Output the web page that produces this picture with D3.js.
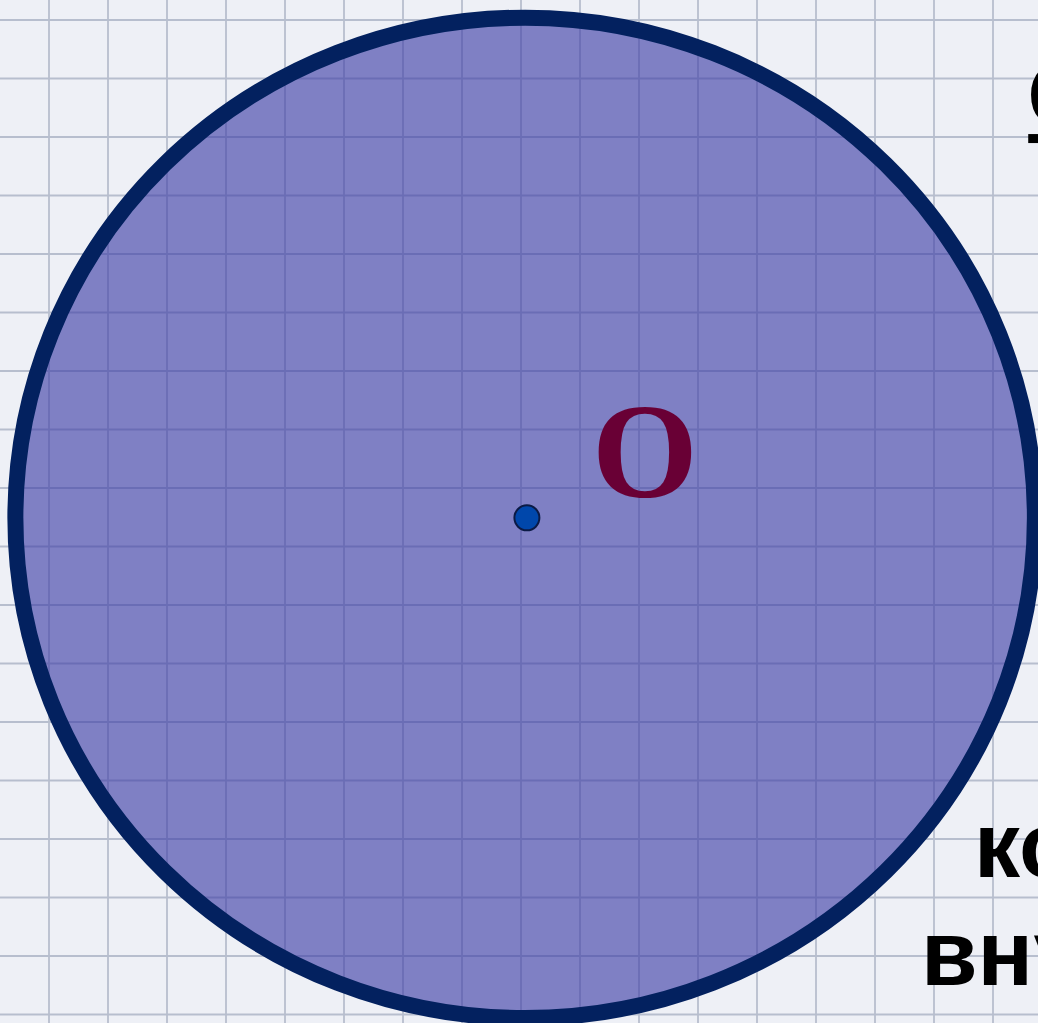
<!DOCTYPE html>
<meta charset="utf-8">
<script src="https://d3js.org/d3.v7.min.js"></script>
<style>
  html, body { margin: 0; padding: 0; background: #eef0f6; }
  svg { display: block; }
  .grid line { stroke: #b7bece; stroke-width: 1.8; }
  .label-o { font-family: 'Liberation Serif', serif; font-weight: bold; fill: #690035; }
  .body-text { font-family: 'Liberation Sans', Arial, sans-serif; font-weight: bold; fill: #000; }
</style>
<div id="my_dataviz"></div>
<script>

// grid paper, in cells
var gridCols = d3.range(-1, 18);
var gridRows = d3.range(-1, 18);

// circle (centre, radii) in grid cells
var circleCentre = [8.07, 8.51];
var circleRadii = [8.64, 8.55];
var pointO = [8.1, 8.51];
var pointLabel = "О";

// text on the slide: [text, col, row] of the baseline start
var textLines = [
  ["Определение", 16.58, 1.83],
  ["которая", 15.68, 14.65],
  ["внутри", 14.78, 16.5],
  ["окружности", 14.65, 18.25]
];

var width = 1038, height = 1023;

var svg = d3.select("#my_dataviz").append("svg")
    .attr("width", width)
    .attr("height", height);

// one cell ~ 59 px across, 58.5 px down
var x = d3.scaleLinear().domain([0, 1]).range([49, 108]);
var y = d3.scaleLinear().domain([0, 1]).range([20, 78.5]);

svg.append("rect")
    .attr("width", width).attr("height", height)
    .attr("fill", "#eef0f6");

var grid = svg.append("g").attr("class", "grid");
grid.selectAll(".v").data(gridCols).enter().append("line")
    .attr("x1", function(d) { return x(d); })
    .attr("x2", function(d) { return x(d); })
    .attr("y1", 0).attr("y2", height);
grid.selectAll(".h").data(gridRows).enter().append("line")
    .attr("y1", function(d) { return y(d); })
    .attr("y2", function(d) { return y(d); })
    .attr("x1", 0).attr("x2", width);

// the disc
svg.append("ellipse")
    .attr("cx", x(circleCentre[0]))
    .attr("cy", y(circleCentre[1]))
    .attr("rx", x(circleRadii[0]) - x(0))
    .attr("ry", y(circleRadii[1]) - y(0))
    .attr("fill", "rgb(62,62,167)")
    .attr("fill-opacity", 0.63)
    .attr("stroke", "#03215f")
    .attr("stroke-width", 16);

// centre point
svg.append("circle")
    .attr("cx", x(pointO[0]))
    .attr("cy", y(pointO[1]))
    .attr("r", 12.5)
    .attr("fill", "#0047ab")
    .attr("stroke", "#0b1a45")
    .attr("stroke-width", 2);

svg.append("text")
    .attr("class", "label-o")
    .attr("x", x(pointO[0] + 2.0))
    .attr("y", y(pointO[1] - 0.35))
    .attr("text-anchor", "middle")
    .style("font-size", "136px")
    .text(pointLabel);

var lines = svg.selectAll(".body-text").data(textLines).enter().append("text")
    .attr("class", "body-text")
    .attr("x", function(d) { return x(d[1]); })
    .attr("y", function(d) { return y(d[2]); })
    .style("font-size", "92px")
    .text(function(d) { return d[0]; });

// underline the heading
svg.append("rect")
    .attr("x", x(textLines[0][1]) + 1)
    .attr("y", y(textLines[0][2]) + 7)
    .attr("width", 500)
    .attr("height", 9)
    .attr("fill", "#000");

</script>
